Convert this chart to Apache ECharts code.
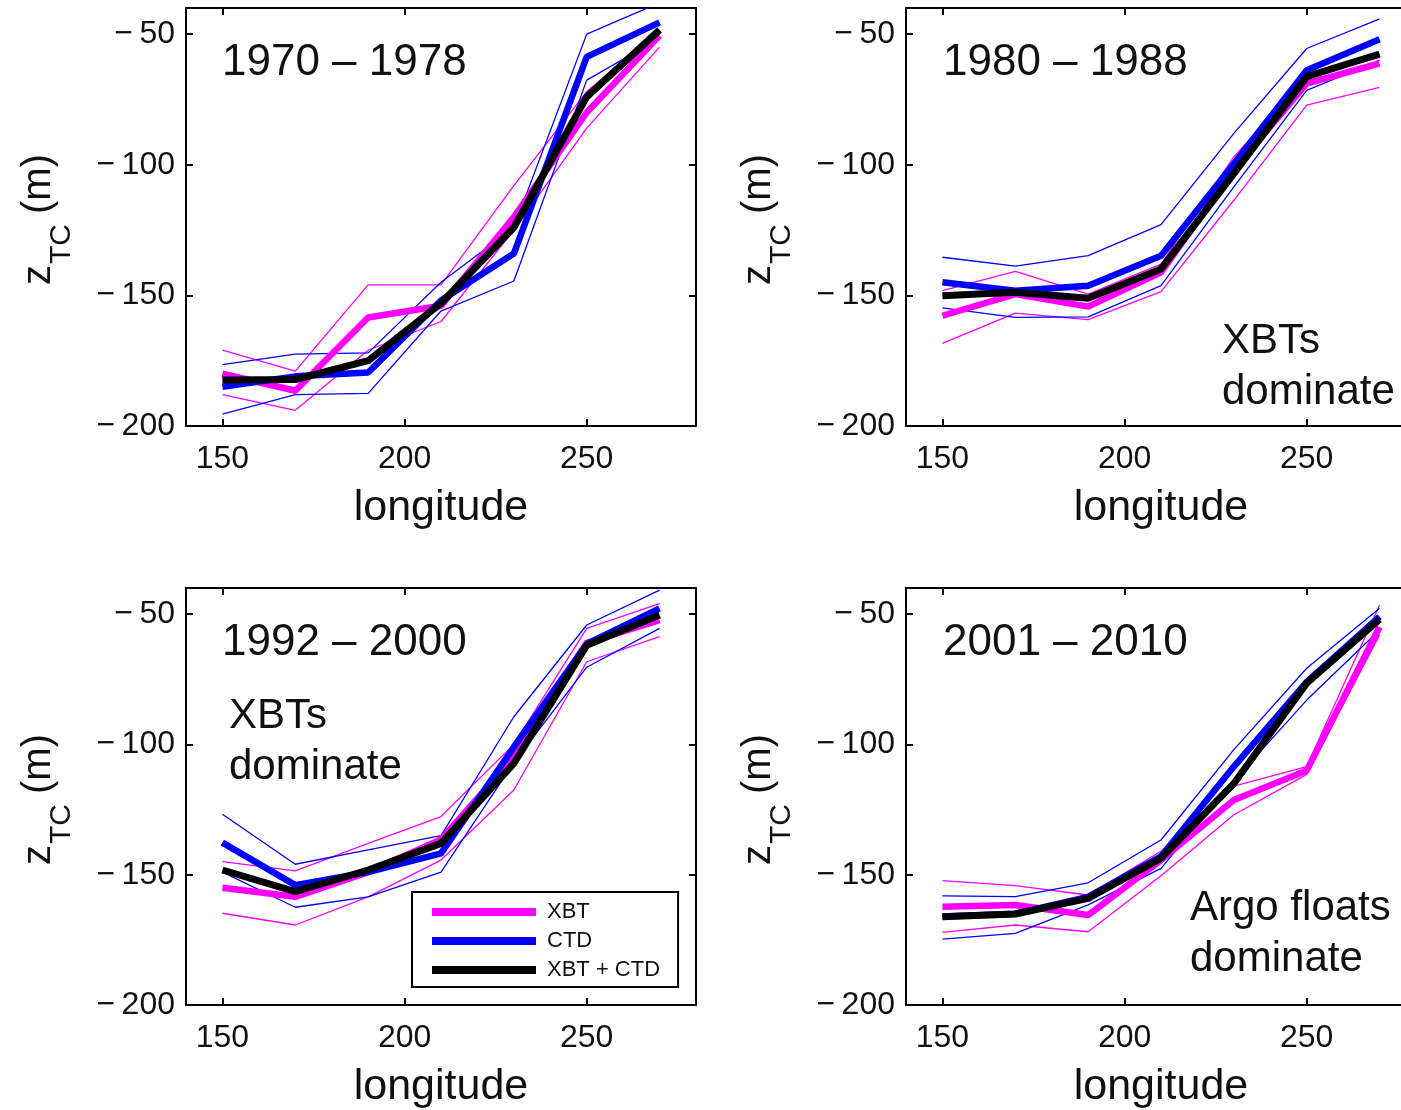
<!DOCTYPE html>
<html><head><meta charset="utf-8">
<script src="https://cdn.jsdelivr.net/npm/echarts@6/dist/echarts.min.js"></script>
<style>html,body{margin:0;padding:0;background:#fff;overflow:hidden}#c{width:1401px;height:1110px}</style>
</head><body><div id="c"></div>
<script>
const longitudes = [150, 170, 190, 210, 230, 250, 270];
const xTicks = [150, 200, 250];
const yTicks = [-200, -150, -100, -50];
const panelTitles = ['1970 \u2013 1978', '1980 \u2013 1988', '1992 \u2013 2000', '2001 \u2013 2010'];
const seriesNames = ['XBT', 'CTD', 'XBT + CTD'];

// Panel 1: 1970-1978
const xbt1   = [-180, -186.5, -158.5, -154, -120, -80, -50.5];
const xbt1Hi = [-171, -179, -146, -146, -108, -72, -49];
const xbt1Lo = [-188, -194, -171, -160, -125, -86, -55];
const ctd1   = [-185, -181, -179.5, -152, -134, -58.7, -45.5];
const ctd1Hi = [-176.5, -172.5, -172, -145, -124, -50, -38];
const ctd1Lo = [-195.5, -188, -187.5, -156, -144.5, -67.6, -51.6];
const all1   = [-182.4, -182.2, -175, -153, -124, -74, -48.4];

// Panel 2: 1980-1988
const xbt2   = [-157.8, -149.5, -154.3, -141.2, -102, -68.9, -61.2];
const xbt2Hi = [-148.2, -140.8, -149.5, -138, -97, -66, -59];
const xbt2Lo = [-168.4, -156.8, -159.3, -148.6, -113.6, -77.2, -70.4];
const ctd2   = [-145, -148.2, -146.3, -134.8, -99.6, -63.8, -52];
const ctd2Hi = [-135.4, -138.8, -134.8, -122.9, -88, -55.5, -44.2];
const ctd2Lo = [-154.8, -158.4, -158.2, -146.3, -108.5, -71.5, -60];
const all2   = [-150.1, -148.8, -151.1, -139.9, -103.4, -66.3, -57.6];

// Panel 3: 1992-2000
const xbt3   = [-155, -158.5, -149, -136.5, -105, -61, -52.3];
const xbt3Hi = [-145, -148.5, -138, -127.7, -100, -55.5, -46];
const xbt3Lo = [-164.8, -169.3, -158.5, -144.4, -117.5, -68.3, -58.7];
const ctd3   = [-137.7, -154, -149, -141.8, -101, -61.5, -47.8];
const ctd3Hi = [-126.8, -146, -140.5, -135, -89.4, -54.2, -40.8];
const ctd3Lo = [-149, -162.5, -158.5, -149, -107, -70.4, -55.5];
const all3   = [-148.2, -156.5, -148.2, -138, -107.3, -62, -50.4];

// Panel 4: 2001-2010
const xbt4   = [-162.3, -161.6, -165.5, -144.4, -121.3, -110, -55];
const xbt4Hi = [-152.3, -154.2, -157.8, -141, -116, -108.5, -46.5];
const xbt4Lo = [-172.1, -169.3, -171.9, -150.4, -127, -111.5, -58];
const ctd4   = [-166, -165, -158.5, -143, -108.5, -76, -51];
const ctd4Hi = [-158.1, -158.4, -153.1, -136.7, -102, -70.8, -47.8];
const ctd4Lo = [-174.7, -172.5, -161.6, -147.6, -114, -83, -56.1];
const all4   = [-166.1, -165.1, -159.1, -143.7, -115, -76.5, -52];

const panels = [
  {xbt: xbt1, xbtHi: xbt1Hi, xbtLo: xbt1Lo, ctd: ctd1, ctdHi: ctd1Hi, ctdLo: ctd1Lo, all: all1},
  {xbt: xbt2, xbtHi: xbt2Hi, xbtLo: xbt2Lo, ctd: ctd2, ctdHi: ctd2Hi, ctdLo: ctd2Lo, all: all2},
  {xbt: xbt3, xbtHi: xbt3Hi, xbtLo: xbt3Lo, ctd: ctd3, ctdHi: ctd3Hi, ctdLo: ctd3Lo, all: all3},
  {xbt: xbt4, xbtHi: xbt4Hi, xbtLo: xbt4Lo, ctd: ctd4, ctdHi: ctd4Hi, ctdLo: ctd4Lo, all: all4}
];

const FONT = "'Liberation Sans', Arial, Helvetica, sans-serif";
const TXT = '#111111';
const MAGENTA = '#ff00ff', BLUE = '#0000ff', BLACK = '#000000';

const gridPos = [
  {left: 186, top: 8, width: 510, height: 418},
  {left: 906, top: 8, width: 510, height: 418},
  {left: 186, top: 588, width: 510, height: 417},
  {left: 906, top: 588, width: 510, height: 417}
];
// y-axis title anchors (baseline x, start y)
const yNamePos = [[50, 285], [770, 285], [50, 865], [770, 865]];

const grids = [], xAxes = [], yAxes = [], series = [];
const pair = arr => longitudes.map((x, i) => [x, arr[i]]);
const yFmt = v => (v < 0 ? '\u2212\u2009' + Math.abs(v) : String(v));

panels.forEach((p, k) => {
  grids.push(Object.assign({containLabel: false, outerBoundsMode: 'none'}, gridPos[k]));
  const axLine = {show: true, onZero: false, lineStyle: {color: '#000', width: 2}};
  const tick = {show: true, inside: true, length: 7, lineStyle: {color: '#000', width: 2}, customValues: xTicks};
  xAxes.push({
    type: 'value', gridIndex: k, position: 'bottom', min: 140, max: 280,
    axisLine: axLine, axisTick: tick, splitLine: {show: false},
    axisLabel: {show: true, customValues: xTicks, color: TXT, fontSize: 32, fontFamily: FONT, margin: 17},
    name: 'longitude', nameLocation: 'middle', nameGap: 61,
    nameTextStyle: {fontSize: 43, fontFamily: FONT, color: TXT}
  });
  xAxes.push({
    type: 'value', gridIndex: k, position: 'top', min: 140, max: 280,
    axisLine: axLine, axisTick: tick, splitLine: {show: false}, axisLabel: {show: false}
  });
  const ytick = {show: true, inside: true, length: 7, lineStyle: {color: '#000', width: 2}, customValues: yTicks};
  yAxes.push({
    type: 'value', gridIndex: k, position: 'left', min: -200, max: -40,
    axisLine: axLine, axisTick: ytick, splitLine: {show: false},
    axisLabel: {show: true, customValues: yTicks, formatter: yFmt, color: TXT, fontSize: 32, fontFamily: FONT, margin: 11}
  });
  yAxes.push({
    type: 'value', gridIndex: k, position: 'right', min: -200, max: -40,
    axisLine: axLine, axisTick: ytick, splitLine: {show: false}, axisLabel: {show: false}
  });
  const xi = k * 2, yi = k * 2;
  const thin = (data, color) => ({
    type: 'line', xAxisIndex: xi, yAxisIndex: yi, data: pair(data), symbol: 'none', clip: true,
    silent: true, lineStyle: {color: color, width: 1.3}, z: 2
  });
  const thick = (name, data, color, w, z) => ({
    name: name, type: 'line', xAxisIndex: xi, yAxisIndex: yi, data: pair(data), symbol: 'none', clip: true,
    itemStyle: {color: color}, lineStyle: {color: color, width: w}, z: z
  });
  series.push(thin(p.xbtHi, MAGENTA), thin(p.xbtLo, MAGENTA), thin(p.ctdHi, BLUE), thin(p.ctdLo, BLUE));
  series.push(thick(seriesNames[0], p.xbt, MAGENTA, 6.5, 3));
  series.push(thick(seriesNames[1], p.ctd, BLUE, 6.5, 4));
  series.push(thick(seriesNames[2], p.all, BLACK, 7, 5));
});

const txt = (x, y, text, size) => ({
  type: 'text', left: x, top: y,
  style: {text: text, fontSize: size, fontFamily: FONT, fill: TXT, lineHeight: size * 1.22}
});
const yName = (pos) => ({
  type: 'group', x: pos[0], y: pos[1], rotation: Math.PI / 2,
  children: [
    {type: 'text', x: 0, y: 9, style: {text: 'z', fontSize: 40, fontFamily: FONT, fill: TXT, align: 'left', verticalAlign: 'bottom'}},
    {type: 'text', x: 21, y: 27, style: {text: 'TC', fontSize: 30, fontFamily: FONT, fill: TXT, align: 'left', verticalAlign: 'bottom'}},
    {type: 'text', x: 71, y: 9, style: {text: '(m)', fontSize: 40, fontFamily: FONT, fill: TXT, align: 'left', verticalAlign: 'bottom'}}
  ]
});

const option = {
  animation: false,
  backgroundColor: '#fff',
  grid: grids, xAxis: xAxes, yAxis: yAxes, series: series,
  legend: {
    show: true, data: seriesNames, orient: 'vertical', left: 412, top: 892,
    icon: 'rect', itemWidth: 104, itemHeight: 8, itemGap: 7,
    padding: [9, 18, 6, 20],
    borderColor: '#000', borderWidth: 2, backgroundColor: '#fff',
    selectedMode: false,
    textStyle: {fontSize: 22, fontFamily: FONT, color: TXT, lineHeight: 21, padding: [0, 0, 0, 6]}
  },
  graphic: [
    txt(222, 36, panelTitles[0], 44),
    txt(943, 36, panelTitles[1], 44),
    txt(222, 616, panelTitles[2], 44),
    txt(943, 616, panelTitles[3], 44),
    txt(1222, 316, 'XBTs\ndominate', 42),
    txt(229, 691, 'XBTs\ndominate', 42),
    txt(1190, 883, 'Argo floats\ndominate', 42),
    yName(yNamePos[0]), yName(yNamePos[1]), yName(yNamePos[2]), yName(yNamePos[3])
  ]
};

const chart = echarts.init(document.getElementById('c'), null, {renderer: 'canvas'});
chart.setOption(option);
</script>
</body></html>
